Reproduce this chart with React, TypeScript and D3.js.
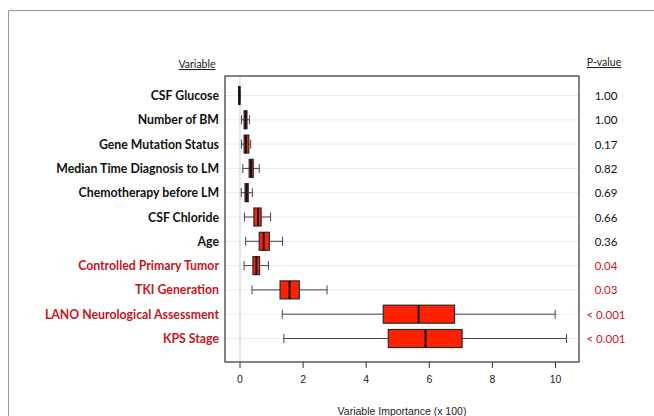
import React from "react";
import * as d3 from "d3";

const variables = [
  "CSF Glucose",
  "Number of BM",
  "Gene Mutation Status",
  "Median Time Diagnosis to LM",
  "Chemotherapy before LM",
  "CSF Chloride",
  "Age",
  "Controlled Primary Tumor",
  "TKI Generation",
  "LANO Neurological Assessment",
  "KPS Stage",
];
const significant = [false, false, false, false, false, false, false, true, true, true, true];
const pValues = ["1.00", "1.00", "0.17", "0.82", "0.69", "0.66", "0.36", "0.04", "0.03", "< 0.001", "< 0.001"];
const whiskerLow = [-0.04, 0.05, 0.05, 0.09, 0.04, 0.14, 0.18, 0.13, 0.38, 1.34, 1.39];
const q1 = [-0.04, 0.13, 0.13, 0.29, 0.16, 0.44, 0.61, 0.41, 1.27, 4.54, 4.7];
const median = [-0.02, 0.18, 0.19, 0.35, 0.21, 0.57, 0.75, 0.52, 1.57, 5.66, 5.88];
const q3 = [0.0, 0.22, 0.28, 0.42, 0.26, 0.67, 0.93, 0.62, 1.88, 6.8, 7.04];
const whiskerHigh = [0.0, 0.3, 0.34, 0.61, 0.39, 0.97, 1.35, 0.9, 2.76, 9.99, 10.35];
const xTicks = [0, 2, 4, 6, 8, 10];

const W = 654;
const H = 416;
const RED = "#c8141e";
const FONT = "Lato, 'Open Sans', sans-serif";
const AXFONT = "'Liberation Sans', Arial, sans-serif";

export default function App() {
  const box = { left: 225, right: 579, top: 76, bottom: 362 };
  const x = d3.scaleLinear().domain([0, 10]).range([240, 555.5]);
  const y = d3.scalePoint<string>().domain(variables).range([95.5, 338.5]);
  const bh = 18;
  const cap = 9;

  return (
    <svg
      width={W}
      height={H}
      style={{ position: "absolute", left: 0, top: 0, background: "#fff" }}
    >
      {/* outer frame */}
      <line x1={8.5} y1={10.5} x2={W} y2={10.5} stroke="#9a9a9a" strokeWidth={1} />
      <line x1={8.5} y1={10.5} x2={8.5} y2={H} stroke="#9a9a9a" strokeWidth={1} />

      {/* headers */}
      <text x={197} y={68} fontFamily={FONT} fontSize={10.5} textAnchor="middle" textDecoration="underline" fill="#222">
        Variable
      </text>
      <text x={604} y={66} fontFamily={FONT} fontSize={10.5} textAnchor="middle" textDecoration="underline" fill="#222">
        P-value
      </text>

      {/* grid lines */}
      {variables.map((v) => (
        <line key={"g" + v} x1={box.left} x2={box.right} y1={y(v)} y2={y(v)} stroke="#ebebeb" strokeWidth={1} />
      ))}
      <line x1={x(0)} x2={x(0)} y1={box.top} y2={box.bottom} stroke="#cfcfcf" strokeWidth={1} />

      {/* boxes */}
      {variables.map((v, i) => {
        const cy = y(v) as number;
        return (
          <g key={"b" + v}>
            <line x1={x(whiskerLow[i])} x2={x(q1[i])} y1={cy} y2={cy} stroke="#444" strokeWidth={1} />
            <line x1={x(q3[i])} x2={x(whiskerHigh[i])} y1={cy} y2={cy} stroke="#444" strokeWidth={1} />
            <line x1={x(whiskerLow[i])} x2={x(whiskerLow[i])} y1={cy - cap / 2} y2={cy + cap / 2} stroke="#444" strokeWidth={1} />
            <line x1={x(whiskerHigh[i])} x2={x(whiskerHigh[i])} y1={cy - cap / 2} y2={cy + cap / 2} stroke="#444" strokeWidth={1} />
            <rect
              x={x(q1[i])}
              y={cy - bh / 2}
              width={Math.max(1, x(q3[i]) - x(q1[i]))}
              height={bh}
              fill="#ff2200"
              stroke="#2a2a2a"
              strokeWidth={1.2}
            />
            <line x1={x(median[i])} x2={x(median[i])} y1={cy - bh / 2} y2={cy + bh / 2} stroke="#111" strokeWidth={2} />
          </g>
        );
      })}

      {/* plot box */}
      <rect
        x={box.left}
        y={box.top}
        width={box.right - box.left}
        height={box.bottom - box.top}
        fill="none"
        stroke="#333"
        strokeWidth={1.2}
      />

      {/* x axis */}
      {xTicks.map((t) => (
        <g key={"t" + t}>
          <line x1={x(t)} x2={x(t)} y1={box.bottom} y2={box.bottom + 6} stroke="#333" strokeWidth={1} />
          <text x={x(t)} y={383} fontFamily={AXFONT} fontSize={10.5} textAnchor="middle" fill="#222">
            {t}
          </text>
        </g>
      ))}
      <text x={402} y={415} fontFamily={AXFONT} fontSize={10.5} textAnchor="middle" fill="#222">
        Variable Importance (x 100)
      </text>

      {/* labels */}
      {variables.map((v, i) => (
        <text
          key={"l" + v}
          x={219}
          y={(y(v) as number) + 4.5}
          fontFamily={FONT}
          fontWeight="bold"
          fontSize={12.3}
          textAnchor="end"
          fill={significant[i] ? RED : "#111"}
        >
          {v}
        </text>
      ))}

      {/* p-values */}
      {variables.map((v, i) => (
        <text
          key={"p" + v}
          x={606}
          y={(y(v) as number) + 4.5}
          fontFamily={FONT}
          fontSize={11.5}
          textAnchor="middle"
          fill={significant[i] ? RED : "#111"}
        >
          {pValues[i]}
        </text>
      ))}
    </svg>
  );
}
